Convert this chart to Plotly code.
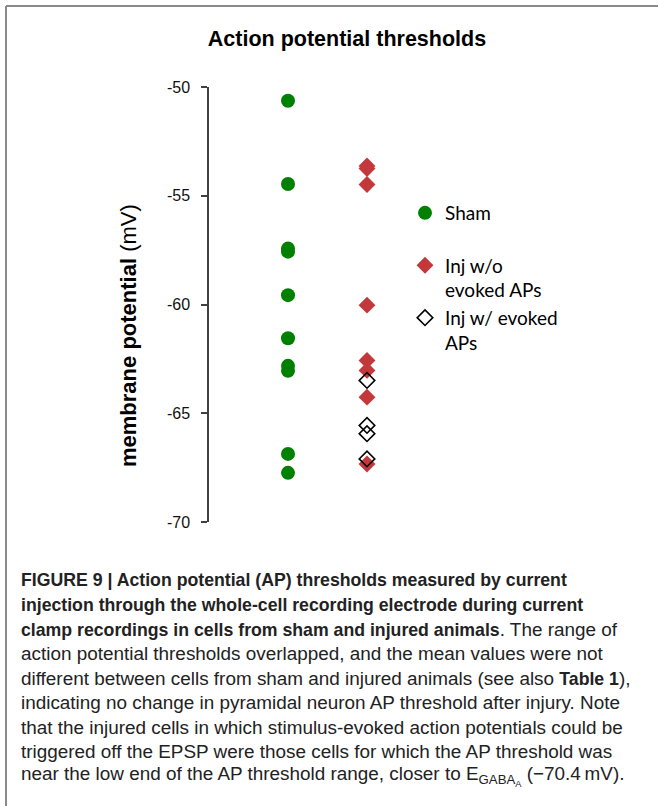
import plotly.graph_objects as go

# Action potential thresholds (mV) per group
sham_mv = [-50.63, -54.46, -57.43, -57.57, -59.57, -61.55, -62.82, -63.05, -66.87, -67.74]
inj_no_ap_mv = [-53.63, -53.75, -54.48, -60.03, -62.57, -63.03, -64.26, -67.33]
inj_ap_mv = [-63.49, -65.56, -65.94, -67.10]

groups = ["Sham", "Injured"]
y_ticks = [-70, -65, -60, -55, -50]
y_tick_text = ["-70", "-65", "-60", "-55", "-50"]

B = '<b><span style="font-size:17.7px">'
EB = "</span></b>"
caption_lines = [
    B + "FIGURE 9 | Action potential (AP) thresholds measured by current" + EB,
    B + "injection through the whole-cell recording electrode during current" + EB,
    B + "clamp recordings in cells from sham and injured animals" + EB + ". The range of",
    "action potential thresholds overlapped, and the mean values were not",
    "different between cells from sham and injured animals (see also " + B + "Table 1" + EB + "),",
    "indicating no change in pyramidal neuron AP threshold after injury. Note",
    "that the injured cells in which stimulus-evoked action potentials could be",
    "triggered off the EPSP were those cells for which the AP threshold was",
    "near the low end of the AP threshold range, closer to E<sub>GABA<sub>A</sub></sub> (\u221270.4\u2009mV).",
]

W, H = 658, 806
ML, MR, MT, MB = 209, 212, 87, 284
PW, PH = W - ML - MR, H - MT - MB


def px_x(px):
    return (px - ML) / PW


def px_y(py):
    return (H - MB - py) / PH


fig = go.Figure()
fig.add_trace(go.Scatter(
    x=[groups[0]] * len(sham_mv), y=sham_mv, mode="markers", name="Sham<br> ",
    marker=dict(symbol="circle", size=14, color="#008000"),
))
fig.add_trace(go.Scatter(
    x=[groups[1]] * len(inj_no_ap_mv), y=inj_no_ap_mv, mode="markers",
    name="Inj w/o<br>evoked APs",
    marker=dict(symbol="diamond", size=13, color="#C3393B"),
))
fig.add_trace(go.Scatter(
    x=[groups[1]] * len(inj_ap_mv), y=inj_ap_mv, mode="markers",
    name="Inj w/ evoked<br>APs",
    marker=dict(symbol="diamond-open", size=12, color="#000000", line=dict(width=1.6)),
))

annotations = [
    dict(text="<b>membrane potential</b> (mV)", textangle=-90, xref="paper", yref="paper",
         x=px_x(128), y=px_y(336), xanchor="center", yanchor="middle", showarrow=False,
         font=dict(family="Liberation Sans, Arial", size=22, color="#000")),
]
line_step = 24.5
for i, line in enumerate(caption_lines):
    annotations.append(dict(
        text=line, xref="paper", yref="paper", x=px_x(19), y=px_y(580 + i * line_step),
        xanchor="left", yanchor="middle", showarrow=False, align="left",
        font=dict(family="Liberation Sans, Arial", size=18.9, color="#222"),
    ))

shapes = [
    dict(type="line", xref="paper", yref="paper", x0=px_x(6), x1=px_x(W + 2),
         y0=px_y(6), y1=px_y(6), line=dict(color="#8a8a8a", width=2)),
    dict(type="line", xref="paper", yref="paper", x0=px_x(6), x1=px_x(6),
         y0=px_y(6), y1=px_y(H + 2), line=dict(color="#8a8a8a", width=2)),
]

fig.update_layout(
    width=W, height=H,
    margin=dict(l=ML, r=MR, t=MT, b=MB),
    paper_bgcolor="white", plot_bgcolor="white",
    title=dict(text="<b>Action potential thresholds</b>", x=347 / W, xanchor="center",
               y=1 - 38 / H, yanchor="middle",
               font=dict(family="Liberation Sans, Arial", size=21.5, color="#000")),
    xaxis=dict(type="category", categoryorder="array", categoryarray=groups,
               range=[-1, 2], visible=False, fixedrange=True),
    yaxis=dict(range=[-70, -50], tickvals=y_ticks, ticktext=y_tick_text,
               ticks="outside", ticklen=6,
               tickwidth=1.5, tickcolor="#404040", showline=True, linecolor="#404040",
               linewidth=1.5, showgrid=False, zeroline=False,
               tickfont=dict(family="Liberation Sans, Arial", size=16, color="#111"),
               ticklabelstandoff=8),
    showlegend=True,
    legend=dict(x=px_x(405), y=px_y(194), xanchor="left", yanchor="top",
                valign="top", bgcolor="rgba(0,0,0,0)",
                font=dict(family="Lato, Carlito, sans-serif", size=19, color="#000"),
                itemwidth=30, tracegroupgap=0),
    annotations=annotations,
    shapes=shapes,
)

fig.write_html("out.html")
